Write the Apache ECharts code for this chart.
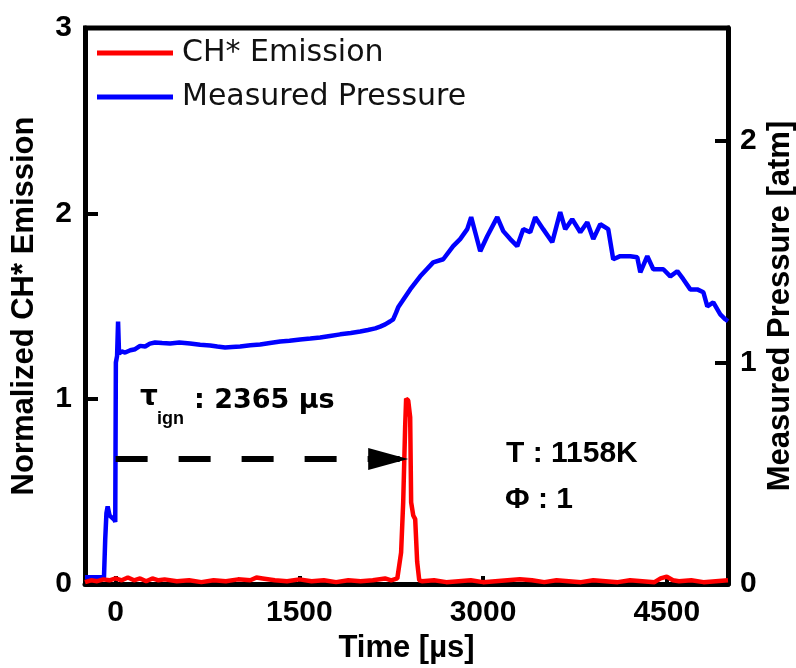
<!DOCTYPE html>
<html><head><meta charset="utf-8">
<script src="https://cdn.jsdelivr.net/npm/echarts@6/dist/echarts.min.js"></script>
<style>html,body{margin:0;padding:0;background:#fff}#c{width:796px;height:668px}</style>
</head><body><div id="c"></div>
<script>
// ---- tick labels ----
const xTicks = [0, 1500, 3000, 4500];
const leftTicks = [0, 1, 2, 3];
const rightTicks = [0, 1, 2];

// ---- Measured pressure [atm] vs time [µs] ----
const pressureT = [-250,-95,-85,-75,-65,-50,-30,-10,-3,2,12,20,28,50,78,120,159,200,241,280,322,380,445,520,608,690,772,830,894,950,1017,1100,1180,1260,1344,1420,1507,1590,1670,1750,1834,1920,1997,2060,2120,2160,2201,2240,2266,2290,2307,2340,
  2405,2487,2593,2675,2756,2813,2871,2903,2936,2977,3034,3116,3165,3222,3279,3328,3385,3426,3491,3565,3630,3671,3728,3794,3851,3900,3957,4022,4063,4120,4202,4259,4284,4341,4390,4472,4529,4586,4635,4692,4749,4799,4831,4880,4937,4978,5000];
const pressureP = [0.03,0.03,0.20,0.32,0.35,0.31,0.30,0.29,0.28,1.0,1.03,1.185,1.04,1.05,1.045,1.055,1.06,1.075,1.072,1.085,1.09,1.088,1.086,1.09,1.086,1.08,1.077,1.072,1.068,1.07,1.072,1.078,1.081,1.088,1.095,1.098,1.104,1.108,1.113,1.12,1.127,1.133,1.14,1.147,1.154,1.162,1.172,1.185,1.195,1.225,1.249,1.276,
  1.330,1.389,1.452,1.466,1.525,1.557,1.602,1.656,1.588,1.502,1.570,1.656,1.593,1.557,1.525,1.602,1.588,1.656,1.602,1.543,1.679,1.602,1.647,1.588,1.633,1.557,1.624,1.602,1.466,1.480,1.480,1.475,1.407,1.480,1.421,1.421,1.389,1.412,1.376,1.330,1.330,1.317,1.253,1.271,1.217,1.195,1.186];

// ---- Normalized CH* emission vs time [µs] ----
const chT = [-250,-200,-150,-100,-50,0,50,100,150,200,250,300,350,400,500,600,700,800,900,1000,1100,1150,1200,1300,1400,1500,1600,1700,1800,1900,2000,2100,2200,2250,2300,2315,2331,2348,2364,2372,2389,2405,2413,2430,2446,2462,2479,2500,2600,2700,2800,2900,3000,3100,3200,3300,3400,3500,3600,3700,3800,3900,4000,4100,4200,4300,4400,4450,4500,4550,4600,4700,4800,4900,5000];
const chV = [0.01,0.02,0.015,0.025,0.02,0.03,0.02,0.035,0.02,0.03,0.015,0.03,0.02,0.025,0.015,0.02,0.01,0.02,0.015,0.025,0.02,0.035,0.03,0.02,0.015,0.025,0.015,0.02,0.01,0.02,0.015,0.02,0.03,0.02,0.03,0.02,0.17,0.44,0.85,1.0,0.99,0.9,0.44,0.37,0.35,0.12,0.02,0.015,0.02,0.01,0.015,0.02,0.01,0.015,0.02,0.025,0.02,0.01,0.02,0.015,0.01,0.02,0.015,0.01,0.02,0.015,0.01,0.03,0.04,0.02,0.015,0.02,0.01,0.015,0.02];

// ---- ignition-delay arrow (time µs, normalized level) ----
const arrowT = [0, 2389];
const arrowLevel = [0.675, 0.675];

const GRID = {left: 85, right: 68, top: 28, bottom: 84};
const W = 796;

const chart = echarts.init(document.getElementById('c'), null, {renderer: 'canvas'});
const tickFont = {fontFamily: 'Liberation Sans, Arial, sans-serif', fontWeight: 'bold', fontSize: 30, color: '#000'};
const nameFont = {fontFamily: 'Liberation Sans, Arial, sans-serif', fontWeight: 'bold', fontSize: 31, color: '#000'};
const plain = v => String(v);

chart.setOption({
  animation: false,
  backgroundColor: '#fff',
  grid: Object.assign({outerBoundsMode: 'none', containLabel: false}, GRID),
  legend: {
    orient: 'vertical', left: 97, top: 36, padding: 0, itemGap: 10,
    itemWidth: 76, itemHeight: 5, icon: 'rect',
    data: ['CH* Emission', 'Measured Pressure'],
    textStyle: {fontFamily: 'DejaVu Sans', fontSize: 30, lineHeight: 34, color: '#111', padding: [0, 0, 0, 4]}
  },
  xAxis: {
    type: 'value', min: -250, max: 5000, position: 'bottom',
    name: 'Time [µs]', nameLocation: 'middle', nameGap: 42, nameTextStyle: nameFont,
    axisLine: {show: true, onZero: false, lineStyle: {color: '#000', width: 5}},
    axisTick: {show: true, inside: true, length: 8, lineStyle: {color: '#000', width: 4}, customValues: xTicks},
    axisLabel: Object.assign({margin: 14, customValues: xTicks, formatter: plain}, tickFont),
    splitLine: {show: false}
  },
  yAxis: [{
    type: 'value', min: 0, max: 3, interval: 1, position: 'left',
    name: 'Normalized CH* Emission', nameLocation: 'middle', nameGap: 45, nameTextStyle: nameFont,
    axisLine: {show: true, onZero: false, lineStyle: {color: '#000', width: 5}},
    axisTick: {show: true, inside: true, length: 13, lineStyle: {color: '#000', width: 4}, customValues: leftTicks},
    axisLabel: Object.assign({margin: 13, customValues: leftTicks, formatter: plain}, tickFont),
    splitLine: {show: false}
  }, {
    type: 'value', min: 0, max: 2.51, position: 'right',
    name: 'Measured Pressure [atm]', nameLocation: 'middle', nameGap: 37, nameTextStyle: nameFont,
    nameMoveOverlap: false,
    axisLine: {show: true, onZero: false, lineStyle: {color: '#000', width: 5}},
    axisTick: {show: true, inside: true, length: 13, lineStyle: {color: '#000', width: 4}, customValues: rightTicks},
    axisLabel: Object.assign({margin: 12, customValues: rightTicks, formatter: plain}, tickFont),
    splitLine: {show: false}
  }],
  series: [{
    name: 'Measured Pressure', type: 'line', yAxisIndex: 1, showSymbol: false, symbol: 'none',
    color: '#0000ff', lineStyle: {color: '#0000ff', width: 4.5},
    data: pressureT.map((t, i) => [t, pressureP[i]]), z: 3
  }, {
    name: 'CH* Emission', type: 'line', yAxisIndex: 0, showSymbol: false, symbol: 'none',
    color: '#ff0000', lineStyle: {color: '#ff0000', width: 4.5},
    data: chT.map((t, i) => [t, chV[i]]), z: 4
  }, {
    name: 'arrow', type: 'line', yAxisIndex: 0, symbol: 'none', silent: true,
    lineStyle: {color: '#000', width: 6, type: [32, 31]},
    data: arrowT.map((t, i) => [t, arrowLevel[i]]), z: 5
  }, {
    name: 'arrowHead', type: 'scatter', yAxisIndex: 0, silent: true,
    symbol: 'path://M0,0L40,11L0,22Z', symbolSize: [40, 22], symbolOffset: [-20, 0],
    itemStyle: {color: '#000', opacity: 1},
    data: [[arrowT[1], arrowLevel[1]]], z: 6
  }],
  graphic: [
    {type: 'line', z: 20, shape: {x1: GRID.left - 2, y1: GRID.top, x2: W - GRID.right + 2, y2: GRID.top}, style: {stroke: '#000', lineWidth: 5}},
    {type: 'text', x: 140, y: 398, z: 10, style: {text: 'τ', font: 'bold 28px "DejaVu Sans"', fill: '#000', textAlign: 'left', textVerticalAlign: 'middle'}},
    {type: 'text', x: 157, y: 419, z: 10, style: {text: 'ign', font: 'bold 18px "Liberation Sans"', fill: '#000', textAlign: 'left', textVerticalAlign: 'middle'}},
    {type: 'text', x: 194, y: 401, z: 10, style: {text: ': 2365 µs', font: 'bold 27px "DejaVu Sans"', fill: '#000', textAlign: 'left', textVerticalAlign: 'middle'}},
    {type: 'text', x: 506, y: 454, z: 10, style: {text: 'T : 1158K', font: 'bold 30px "Liberation Sans"', fill: '#000', textAlign: 'left', textVerticalAlign: 'middle'}},
    {type: 'text', x: 505, y: 500, z: 10, style: {text: 'Φ : 1', font: 'bold 30px "Liberation Sans"', fill: '#000', textAlign: 'left', textVerticalAlign: 'middle'}}
  ]
});
</script></body></html>
